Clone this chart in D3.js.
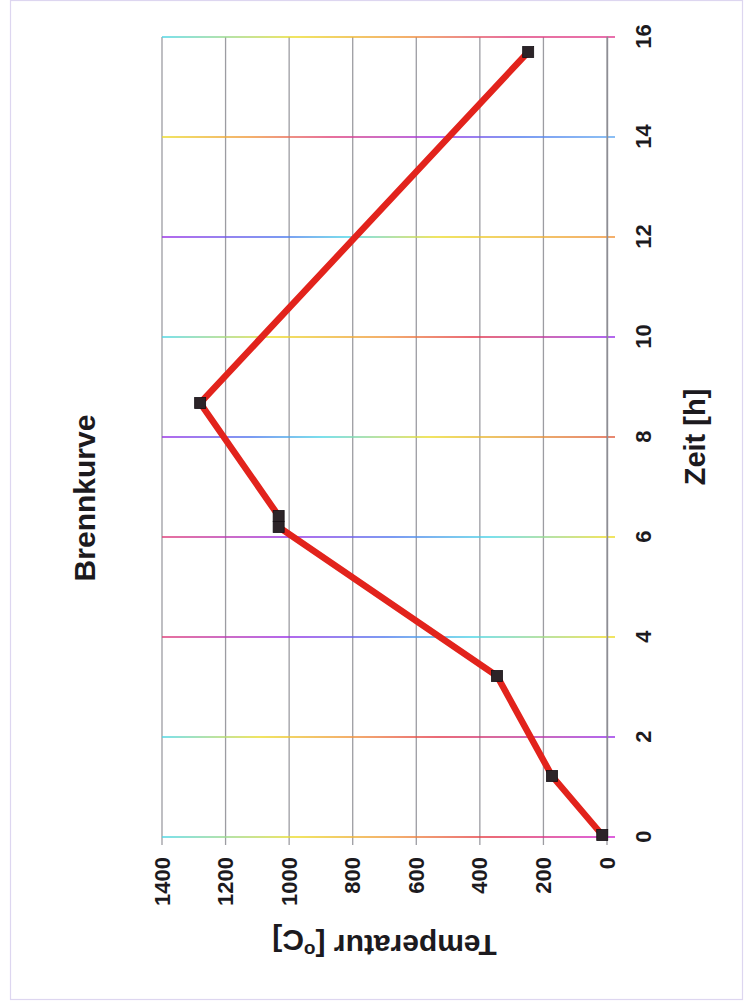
<!DOCTYPE html>
<html>
<head>
<meta charset="utf-8">
<script src="https://cdn.jsdelivr.net/npm/d3@7"></script>
<style>
  html, body { margin: 0; padding: 0; background: #ffffff; }
  svg { display: block; }
  text { font-family: "Liberation Sans", Arial, sans-serif; font-weight: bold; fill: #1c1a1e; }
</style>
</head>
<body>
<svg id="chart" width="744" height="1008"></svg>
<script>
// ---- data ----
const title = "Brennkurve";
const xTitle = "Zeit [h]";
const yTitle = "Temperatur [";
const times = [0.04, 1.22, 3.22, 6.2, 6.42, 8.68, 15.7];
const temps = [15, 173, 346, 1033, 1033, 1280, 248];
const timeTicks = [0, 2, 4, 6, 8, 10, 12, 14, 16];
const tempTicks = [0, 200, 400, 600, 800, 1000, 1200, 1400];

// ---- styles (scan colour fringes on the time gridlines, from 1400 end to 0 end) ----
const C = { cyan: "#4fd6e6", yellow: "#ecdc2c", orange: "#f0953a", red: "#e4384a",
            mag: "#d22ccf", purple: "#9a34e6", blue: "#4f78ee", pink: "#e0407a", lblue: "#64a8f0" };
const gridStops = [
  [[0, C.cyan], [0.3, C.yellow], [0.52, C.orange], [0.74, C.red], [1, C.mag]],          // 0
  [[0, C.cyan], [0.22, C.yellow], [0.42, C.orange], [0.62, C.red], [1, C.purple]],      // 2
  [[0, C.pink], [0.28, C.purple], [0.5, C.blue], [0.7, C.cyan], [1, C.yellow]],         // 4
  [[0, C.pink], [0.28, C.purple], [0.52, C.blue], [0.74, C.cyan], [1, C.yellow]],       // 6
  [[0, C.purple], [0.2, C.blue], [0.36, C.cyan], [0.6, C.yellow], [1, "#e06040"]],      // 8
  [[0, C.cyan], [0.25, C.yellow], [0.5, C.orange], [0.7, C.red], [1, C.purple]],        // 10
  [[0, C.purple], [0.27, C.blue], [0.42, C.cyan], [0.62, C.yellow], [1, C.orange]],     // 12
  [[0, C.yellow], [0.2, C.orange], [0.38, C.pink], [0.62, C.purple], [0.8, C.blue], [1, C.lblue]], // 14
  [[0, C.cyan], [0.3, C.yellow], [0.55, C.orange], [0.78, C.pink], [1, "#e04090"]]      // 16
];

const svg = d3.select("#chart");
const W = 744, H = 1008;

// page border of the scanned sheet
svg.append("rect").attr("x", 10.5).attr("y", 0.5).attr("width", 732).attr("height", 999)
  .attr("fill", "none").attr("stroke", "#ddd6f0").attr("stroke-width", 1.2);

// The chart is drawn in its own upright frame (1008 wide, 744 tall) and rotated -90deg.
const g = svg.append("g").attr("transform", `translate(0,${H}) rotate(-90)`);

const x = d3.scaleLinear().domain([0, 16]).range([171, 971]);
const y = d3.scaleLinear().domain([0, 1400]).range([607, 162]);

const defs = svg.append("defs");
timeTicks.forEach((t, i) => {
  const gr = defs.append("linearGradient").attr("id", "gg" + i)
    .attr("gradientUnits", "userSpaceOnUse")
    .attr("x1", x(t)).attr("x2", x(t)).attr("y1", y(1400)).attr("y2", y(0));
  gridStops[i].forEach(s => gr.append("stop").attr("offset", s[0]).attr("stop-color", s[1]));
});

// temperature gridlines (grey), extending outward as ticks
g.append("g").selectAll("line").data(tempTicks).join("line")
  .attr("x1", x(0) - 8).attr("x2", x(16))
  .attr("y1", d => y(d)).attr("y2", d => y(d))
  .attr("stroke", "#9c9ca2").attr("stroke-width", 1.3);

// time gridlines (colour fringed), extending outward as ticks
g.append("g").selectAll("line").data(timeTicks).join("line")
  .attr("x1", d => x(d)).attr("x2", d => x(d))
  .attr("y1", y(1400)).attr("y2", y(0) + 8)
  .attr("stroke", (d, i) => `url(#gg${i})`).attr("stroke-width", 1.6);

// axes (labels)
const ax = g.append("g").attr("transform", `translate(0,${y(0)})`)
  .call(d3.axisBottom(x).tickValues(timeTicks).tickSize(0).tickPadding(28).tickFormat(d3.format("d")));
ax.select(".domain").attr("stroke", "#8e8e94").attr("stroke-width", 1.4);
ax.selectAll("text").style("font-size", "22px").style("font-family", null).attr("fill", "#1c1a1e");

const ay = g.append("g").attr("transform", `translate(${x(0)},0)`)
  .call(d3.axisLeft(y).tickValues(tempTicks).tickSize(0).tickPadding(20).tickFormat(d3.format("d")));
ay.select(".domain").remove();
ay.selectAll("text").style("font-size", "22px").style("font-family", null).attr("fill", "#1c1a1e");

// series line
const pts = times.map((t, i) => [t, temps[i]]);
g.append("path").datum(pts)
  .attr("d", d3.line().x(d => x(d[0])).y(d => y(d[1])))
  .attr("fill", "none").attr("stroke", "#e2231c").attr("stroke-width", 6.5)
  .attr("stroke-linejoin", "miter");

// markers
g.append("g").selectAll("rect").data(pts).join("rect")
  .attr("x", d => x(d[0]) - 5.5).attr("y", d => y(d[1]) - 5.5)
  .attr("width", 11).attr("height", 11)
  .attr("fill", "#2c2428").attr("stroke", "#141014").attr("stroke-width", 0.8);

// titles
g.append("text").attr("x", 510).attr("y", 95).attr("text-anchor", "middle")
  .style("font-size", "30px").text(title);
g.append("text").attr("x", (x(0) + x(16)) / 2).attr("y", 705).attr("text-anchor", "middle")
  .style("font-size", "29px").text(xTitle);
const yt = g.append("text").attr("transform", `translate(73,${(y(0) + y(1400)) / 2}) rotate(-90)`)
  .attr("text-anchor", "middle").style("font-size", "30px");
yt.append("tspan").text(yTitle);
yt.append("tspan").attr("dy", "-0.45em").style("font-size", "19px").text("o");
yt.append("tspan").attr("dy", "0.45em").text("C]");
</script>
</body>
</html>
